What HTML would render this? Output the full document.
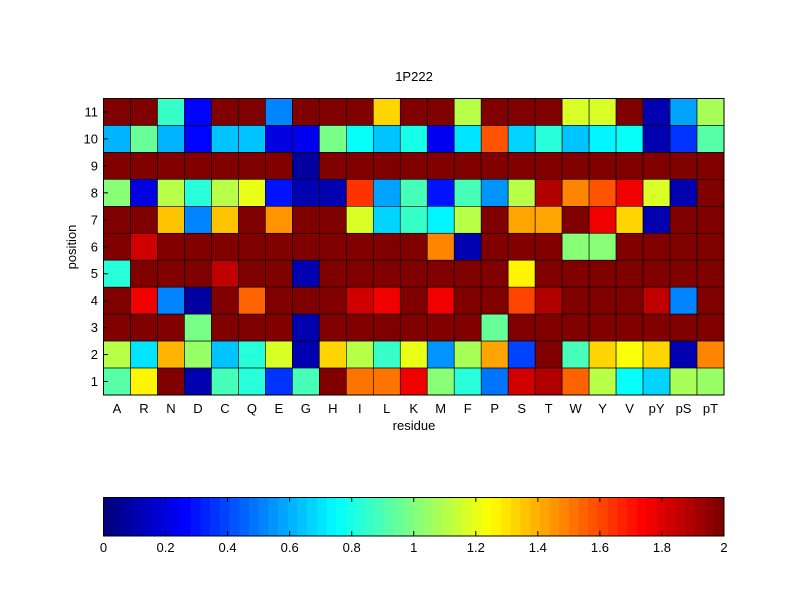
<!DOCTYPE html>
<html><head><style>
body{margin:0;background:#fff;width:800px;height:600px;overflow:hidden}
text{font-family:"Liberation Sans",Arial,sans-serif;font-size:13px;fill:#000}
</style></head><body>
<svg id="s" width="800" height="600" xmlns="http://www.w3.org/2000/svg">
<rect width="800" height="600" fill="#fff"/>
<g id="cells"></g>
<g id="cb"></g>
<rect x="103.5" y="98.5" width="620.5" height="296.5" fill="none" stroke="#000" stroke-width="1"/>
<rect x="103.5" y="497.5" width="620.5" height="38.5" fill="none" stroke="#000" stroke-width="1"/>
<text x="414" y="81" text-anchor="middle">1P222</text>
<text x="414" y="430" text-anchor="middle">residue</text>
<text transform="translate(76,247) rotate(-90)" text-anchor="middle">position</text>
<g id="lab"></g>
</svg>
<script>
function jet(t){t=Math.max(0,Math.min(1,t));t=Math.round(t*63)/63;
function c(x){return Math.round(255*Math.max(0,Math.min(1,x)));}
return "rgb("+c(1.5-Math.abs(4*t-3))+","+c(1.5-Math.abs(4*t-2))+","+c(1.5-Math.abs(4*t-1))+")";}
var cols=["A","R","N","D","C","Q","E","G","H","I","L","K","M","F","P","S","T","W","Y","V","pY","pS","pT"];
var D={
11:[2,2,.85,.24,2,2,.5,2,2,2,1.32,2,2,1.12,2,2,2,1.18,1.18,2,.08,.58,1.08],
10:[.6,.95,.6,.24,.62,.64,.2,.23,.97,.76,.62,.8,.22,.7,1.58,.66,.82,.62,.74,.75,.08,.35,.93],
9:[2,2,2,2,2,2,2,.06,2,2,2,2,2,2,2,2,2,2,2,2,2,2,2],
8:[1.02,.2,1.1,.82,1.1,1.2,.3,.1,.1,1.65,.57,.88,.28,.88,.55,1.12,1.9,1.5,1.58,1.77,1.16,.1,2],
7:[2,2,1.37,.5,1.38,2,1.45,2,2,1.16,.68,.85,.74,1.1,2,1.42,1.42,2,1.78,1.32,.08,2,2],
6:[2,1.85,2,2,2,2,2,2,2,2,2,2,1.5,.08,2,2,2,1.0,1.02,2,2,2,2],
5:[.82,2,2,2,1.88,2,2,.08,2,2,2,2,2,2,2,1.28,2,2,2,2,2,2,2],
4:[2,1.77,.52,.06,2,1.57,2,2,2,1.85,1.77,2,1.77,2,2,1.63,1.9,2,2,2,1.86,.5,2],
3:[2,2,2,.98,2,2,2,.08,2,2,2,2,2,2,.95,2,2,2,2,2,2,2,2],
2:[1.12,.7,1.4,1.05,.63,.84,1.18,.08,1.34,1.1,.85,1.22,.53,1.08,1.42,.37,2,.9,1.32,1.25,1.34,.1,1.5],
1:[.92,1.28,2,.08,.9,.82,.35,.88,2,1.52,1.52,1.77,1.02,.82,.47,1.85,1.9,1.56,1.12,.75,.68,1.08,1.06]};
var x0=103.5,y0=98.5,w=620.5/23,h=296.5/11,s="",l="";
for(var r=11;r>=1;r--){var yy=y0+(11-r)*h;
 for(var c=0;c<23;c++){s+='<rect x="'+(x0+c*w)+'" y="'+yy+'" width="'+w+'" height="'+h+'" fill="'+jet(D[r][c]/2)+'" stroke="#000" stroke-width="0.6"/>';}
 l+='<text x="98" y="'+(yy+h/2+4.5)+'" text-anchor="end">'+r+'</text>';
 l+='<line x1="103.5" x2="108" y1="'+(yy+h/2)+'" y2="'+(yy+h/2)+'" stroke="#000"/>';}
for(var c=0;c<23;c++){var cx=x0+(c+.5)*w;l+='<text x="'+cx+'" y="413" text-anchor="middle">'+cols[c]+'</text>';}
document.getElementById("cells").innerHTML=s;
var b="",cw=620.5/64;
for(var i=0;i<64;i++){b+='<rect x="'+(103.5+i*cw)+'" y="497.5" width="'+(cw+0.3)+'" height="38.5" fill="'+jet(i/63)+'"/>';}
for(var k=0;k<=10;k++){var tx=103.5+k*62.05;var lb=(k*0.2).toFixed(1).replace(/\.0$/,"");
 l+='<text x="'+tx+'" y="552" text-anchor="middle">'+lb+'</text>';
 l+='<line x1="'+tx+'" x2="'+tx+'" y1="531" y2="536" stroke="#000"/><line x1="'+tx+'" x2="'+tx+'" y1="497.5" y2="502" stroke="#000"/>';}
document.getElementById("cb").innerHTML=b;
document.getElementById("lab").innerHTML=l;
</script>
</body></html>
